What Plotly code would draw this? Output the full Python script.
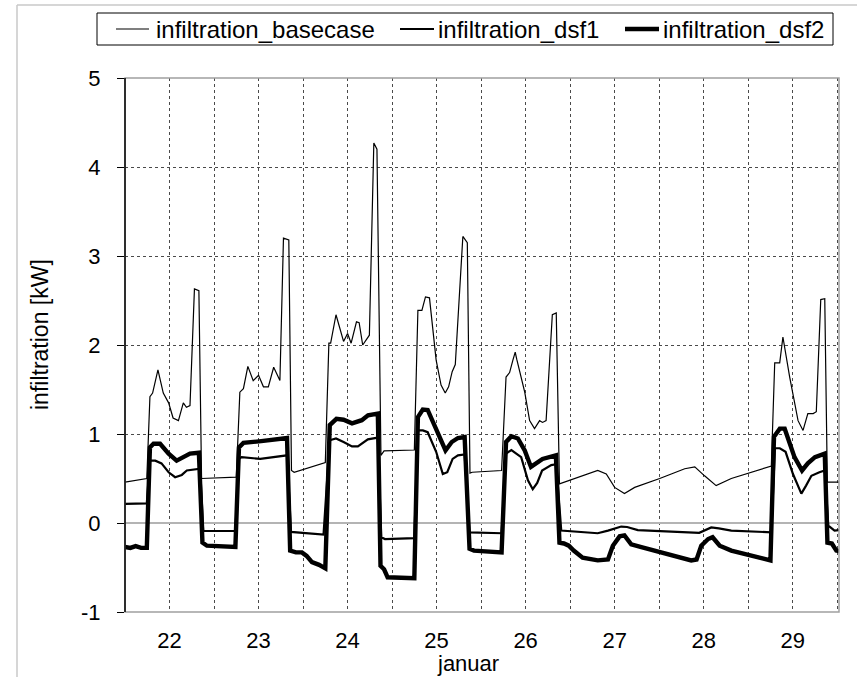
import plotly.graph_objects as go

# Hourly-ish infiltration heat loss, days of January (decimal day of month)
t_base = [21.50, 21.745, 21.78, 21.81, 21.87, 21.93, 21.99, 22.04, 22.10, 22.155, 22.19, 22.23,
          22.28, 22.33, 22.36, 22.75, 22.79, 22.83, 22.88, 22.94, 23.00, 23.055, 23.11, 23.17,
          23.24, 23.28, 23.34, 23.37, 23.40, 23.75, 23.79, 23.81, 23.87, 23.955, 24.00, 24.04,
          24.10, 24.13, 24.17, 24.245, 24.295, 24.33, 24.375, 24.41, 24.75, 24.79, 24.835,
          24.875, 24.92, 24.995, 25.05, 25.097, 25.135, 25.175, 25.21, 25.295, 25.345, 25.375,
          25.40, 25.73, 25.78, 25.82, 25.857, 25.883, 25.90, 25.99, 26.045, 26.10, 26.157,
          26.19, 26.23, 26.30, 26.344, 26.38, 26.81, 26.906, 27.00, 27.11, 27.225, 27.506,
          27.787, 27.90, 28.01, 28.14, 28.31, 28.535, 28.76, 28.798, 28.854, 28.89, 28.966,
          29.06, 29.116, 29.17, 29.23, 29.265, 29.315, 29.36, 29.389, 29.52]
v_base = [0.46, 0.50, 1.42, 1.46, 1.72, 1.46, 1.35, 1.18, 1.15, 1.35, 1.30, 1.32,
          2.63, 2.61, 0.50, 0.515, 1.47, 1.51, 1.76, 1.60, 1.66, 1.53, 1.53, 1.75,
          1.60, 3.20, 3.18, 0.59, 0.57, 0.68, 2.02, 2.02, 2.34, 2.04, 2.13, 2.02,
          2.26, 2.25, 2.00, 2.11, 4.27, 4.20, 0.76, 0.81, 0.82, 2.39, 2.39,
          2.54, 2.53, 1.83, 1.55, 1.46, 1.53, 1.70, 1.78, 3.22, 3.15, 0.56,
          0.57, 0.59, 1.64, 1.69, 1.83, 1.92, 1.84, 1.47, 1.15, 1.06, 1.15,
          1.13, 1.15, 2.34, 2.36, 0.44, 0.59, 0.55, 0.40, 0.33, 0.40, 0.50,
          0.61, 0.63, 0.53, 0.42, 0.50, 0.57, 0.64, 1.80, 1.80, 2.09, 1.64,
          1.15, 1.04, 1.23, 1.23, 1.25, 2.51, 2.52, 0.46, 0.46]

t_dsf1 = [21.50, 21.745, 21.78, 21.84, 21.91, 21.99, 22.063, 22.138, 22.194, 22.344, 22.38,
          22.74, 22.78, 22.81, 23.02, 23.32, 23.365, 23.73, 23.80, 23.87, 23.955, 24.05,
          24.116, 24.228, 24.34, 24.378, 24.42, 24.75, 24.79, 24.846, 24.90, 24.995, 25.07,
          25.12, 25.18, 25.24, 25.315, 25.37, 25.73, 25.78, 25.84, 25.95, 26.026, 26.08,
          26.13, 26.185, 26.288, 26.344, 26.40, 26.81, 26.925, 27.074, 27.14, 27.26, 27.95,
          28.085, 28.17, 28.31, 28.76, 28.80, 28.855, 28.92, 29.003, 29.097, 29.15, 29.21,
          29.30, 29.36, 29.40, 29.47, 29.52]
v_dsf1 = [0.215, 0.22, 0.70, 0.70, 0.67, 0.57, 0.515, 0.54, 0.59, 0.61, -0.09,
          -0.09, 0.72, 0.74, 0.72, 0.76, -0.10, -0.13, 0.93, 0.95, 0.91, 0.86,
          0.86, 0.94, 0.96, -0.16, -0.18, -0.17, 1.04, 1.04, 1.02, 0.80, 0.55,
          0.57, 0.72, 0.76, 0.77, -0.105, -0.115, 0.78, 0.82, 0.74, 0.48, 0.38,
          0.45, 0.59, 0.65, 0.66, -0.085, -0.115, -0.085, -0.04, -0.045, -0.08, -0.11,
          -0.05, -0.06, -0.085, -0.105, 0.84, 0.84, 0.80, 0.55, 0.33, 0.42, 0.53,
          0.57, 0.59, -0.03, -0.085, -0.08]

t_dsf2 = [21.50, 21.56, 21.62, 21.68, 21.745, 21.78, 21.82, 21.894, 21.99, 22.08, 22.155,
          22.23, 22.33, 22.37, 22.42, 22.74, 22.78, 22.83, 23.03, 23.32, 23.355, 23.42,
          23.487, 23.54, 23.60, 23.68, 23.75, 23.80, 23.875, 23.955, 24.05, 24.16, 24.23,
          24.34, 24.37, 24.41, 24.45, 24.75, 24.79, 24.845, 24.90, 24.995, 25.10, 25.17,
          25.24, 25.315, 25.37, 25.42, 25.73, 25.78, 25.84, 25.913, 25.99, 26.06, 26.14,
          26.19, 26.34, 26.38, 26.43, 26.485, 26.54, 26.64, 26.81, 26.925, 26.98, 27.056,
          27.11, 27.186, 27.30, 27.86, 27.92, 27.973, 28.05, 28.10, 28.18, 28.31, 28.75,
          28.79, 28.855, 28.91, 29.02, 29.105, 29.17, 29.25, 29.36, 29.39, 29.44, 29.49,
          29.52]
v_dsf2 = [-0.27, -0.28, -0.26, -0.28, -0.28, 0.85, 0.89, 0.89, 0.78, 0.70, 0.74,
          0.78, 0.79, -0.22, -0.255, -0.27, 0.85, 0.90, 0.92, 0.955, -0.31, -0.33,
          -0.33, -0.37, -0.44, -0.47, -0.51, 1.10, 1.17, 1.16, 1.12, 1.155, 1.21,
          1.23, -0.48, -0.52, -0.61, -0.62, 1.19, 1.275, 1.27, 1.04, 0.815, 0.91,
          0.955, 0.965, -0.29, -0.31, -0.33, 0.91, 0.975, 0.95, 0.815, 0.63, 0.68,
          0.72, 0.76, -0.22, -0.23, -0.255, -0.31, -0.39, -0.42, -0.41, -0.255, -0.15,
          -0.14, -0.24, -0.27, -0.42, -0.41, -0.255, -0.18, -0.16, -0.255, -0.31, -0.42,
          0.97, 1.06, 1.06, 0.74, 0.59, 0.67, 0.74, 0.78, -0.22, -0.23, -0.31,
          -0.315]

day_ticks = [22, 23, 24, 25, 26, 27, 28, 29]
kw_ticks = [-1, 0, 1, 2, 3, 4, 5]
series_names = ["infiltration_basecase", "infiltration_dsf1", "infiltration_dsf2"]
line_widths = [1.2, 2.2, 4.4]

W, H = 857, 677
L, R, T, B = 125, 839, 78, 612  # plot area in pixels
FONT = "Liberation Sans, Arial, sans-serif"
TICK_SIZE = 22


def px(x):
    return (x - L) / (R - L)


def py(y):
    return (B - y) / (B - T)


fig = go.Figure()
for name, t, v, w in zip(series_names, [t_base, t_dsf1, t_dsf2],
                         [v_base, v_dsf1, v_dsf2], line_widths):
    fig.add_trace(go.Scatter(x=t, y=v, mode="lines", name=name,
                             line=dict(color="black", width=w),
                             showlegend=False))

grid = dict(showgrid=True, gridcolor="#4a4a4a", gridwidth=1, griddash="dot")

fig.update_layout(
    width=W, height=H,
    margin=dict(l=L, r=W - R, t=T, b=H - B),
    paper_bgcolor="white", plot_bgcolor="white",
    font=dict(family=FONT, size=TICK_SIZE, color="black"),
    xaxis=dict(range=[21.5, 29.52], tickvals=day_ticks,
               ticktext=[str(d) for d in day_ticks], ticks="", showline=False,
               zeroline=False, tickfont=dict(size=TICK_SIZE), ticklabelstandoff=13,
               minor=dict(dtick=0.5, tick0=21.5, showgrid=True, gridcolor="#4a4a4a",
                          griddash="dot", gridwidth=1),
               **grid),
    yaxis=dict(range=[-1, 5], tickvals=kw_ticks, ticktext=[str(k) for k in kw_ticks],
               ticks="outside", ticklen=7, tickcolor="black", showline=False,
               zeroline=True, zerolinecolor="#b4b4b4", zerolinewidth=2,
               tickfont=dict(size=TICK_SIZE), ticklabelstandoff=12, **grid),
)

shapes = [
    # plot area frame
    dict(type="rect", xref="paper", yref="paper", x0=0, x1=1, y0=0, y1=1,
         line=dict(color="#a0a0a0", width=1.5), layer="above"),
    # black value axis on the left
    dict(type="line", xref="paper", yref="paper", x0=0, x1=0, y0=0, y1=1,
         line=dict(color="black", width=1.5), layer="above"),
    # outer chart frame (left and top edges)
    dict(type="line", xref="paper", yref="paper", x0=px(17), x1=px(17), y0=py(677), y1=py(5),
         line=dict(color="#c8c8c8", width=1.5)),
    dict(type="line", xref="paper", yref="paper", x0=px(17), x1=px(857), y0=py(5), y1=py(5),
         line=dict(color="#c8c8c8", width=1.5)),
    # legend box
    dict(type="rect", xref="paper", yref="paper", x0=px(97), x1=px(833), y0=py(45), y1=py(13),
         line=dict(color="black", width=1), fillcolor="white"),
]

annotations = [
    dict(text="infiltration [kW]", xref="paper", yref="paper", x=px(40), y=py(335),
         textangle=-90, showarrow=False, font=dict(size=23), xanchor="center", yanchor="middle"),
    dict(text="januar", xref="paper", yref="paper", x=px(468), y=py(677),
         showarrow=False, font=dict(size=22), xanchor="center", yanchor="bottom",
         borderpad=0),
]

# legend entries: sample line + label
leg_items = [(116, 149, 154), (400, 434, 436), (625, 659, 661)]
for (x0, x1, xt), name, w in zip(leg_items, series_names, line_widths):
    shapes.append(dict(type="line", xref="paper", yref="paper", x0=px(x0), x1=px(x1),
                       y0=py(29), y1=py(29), line=dict(color="black", width=w)))
    annotations.append(dict(text=name, xref="paper", yref="paper", x=px(xt), y=py(29),
                            xanchor="left", yanchor="middle", showarrow=False,
                            font=dict(size=24)))

fig.update_layout(shapes=shapes, annotations=annotations)
fig.write_html("out.html")
